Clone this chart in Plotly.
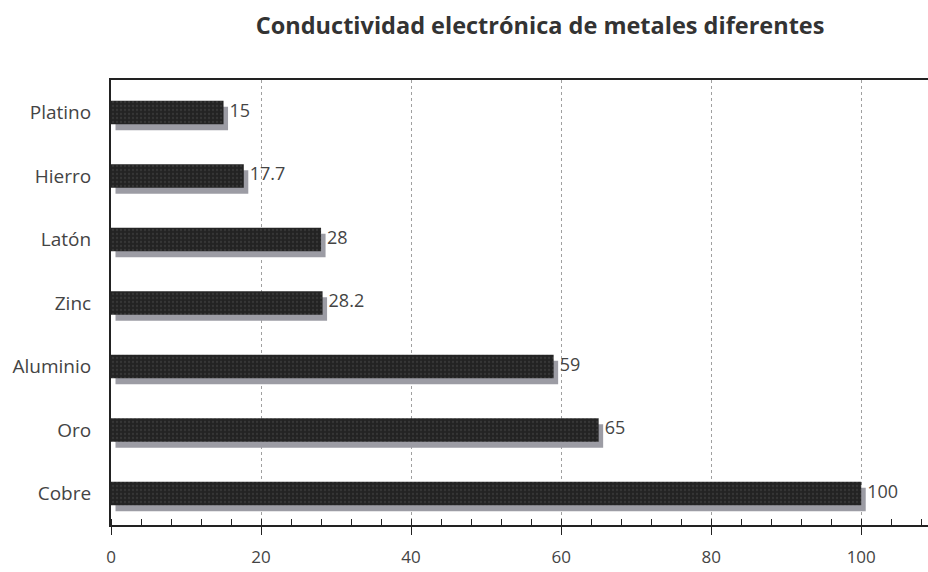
import plotly.graph_objects as go

# Conductividad relativa (Cobre = 100)
metales = ["Cobre", "Oro", "Aluminio", "Zinc", "Latón", "Hierro", "Platino"]
conductividad = [100, 65, 59, 28.2, 28, 17.7, 15]
etiquetas = ["100", "65", "59", "28.2", "28", "17.7", "15"]
ticks_x = [0, 20, 40, 60, 80, 100]

FONT = "Open Sans"
TXT = "#444444"

fig = go.Figure()

# sombra gris desplazada abajo a la derecha
fig.add_trace(go.Bar(
    y=metales, x=conductividad, base=0.6, orientation="h",
    width=0.37, offset=-0.28,
    marker=dict(color="#9c9ca4", line=dict(width=0)),
    hoverinfo="skip", showlegend=False,
))
# barra principal
fig.add_trace(go.Bar(
    y=metales, x=conductividad, orientation="h",
    width=0.37, offset=-0.185,
    marker=dict(color="#232323", line=dict(width=0),
                pattern=dict(shape=".", fgcolor="#4a4a4a", size=4, solidity=0.25)),
    showlegend=False,
))
# valores a la derecha de cada barra
fig.add_trace(go.Scatter(
    y=metales, x=[v + 0.8 for v in conductividad], mode="text",
    text=etiquetas, textposition="middle right",
    textfont=dict(family=FONT, size=18, color=TXT),
    hoverinfo="skip", showlegend=False, cliponaxis=False,
))

fig.update_layout(
    width=928, height=572,
    margin=dict(l=111, r=0, t=80, b=47, autoexpand=False),
    paper_bgcolor="white", plot_bgcolor="white",
    barmode="overlay",
    title=dict(text="<b>Conductividad electrónica de metales diferentes</b>",
               x=0.582, xanchor="center", y=0.955, yanchor="middle",
               font=dict(family=FONT, size=23.5, color="#333333")),
    font=dict(family=FONT, size=18, color=TXT),
)
fig.update_xaxes(
    range=[0, 108.9], tickvals=ticks_x, ticktext=[str(t) for t in ticks_x],
    automargin=False,
    showgrid=True, gridcolor="#a0a0a0", griddash="dot", gridwidth=1,
    showline=True, linecolor="#222222", linewidth=2, mirror=True,
    ticks="outside", ticklen=8, tickcolor="#222222", tickwidth=1,
    ticklabelstandoff=8,
    minor=dict(dtick=4, ticks="inside", ticklen=6, tickcolor="#222222", showgrid=False),
    zeroline=False, tickfont=dict(family=FONT, size=17, color=TXT),
)
fig.update_yaxes(
    type="category", categoryorder="array", categoryarray=metales,
    range=[-0.496, 6.51], automargin=False,
    showline=True, linecolor="#222222", linewidth=2,
    showgrid=False, ticks="", ticklabelstandoff=14,
    tickfont=dict(family=FONT, size=19, color=TXT),
)

fig.write_html("out.html")
